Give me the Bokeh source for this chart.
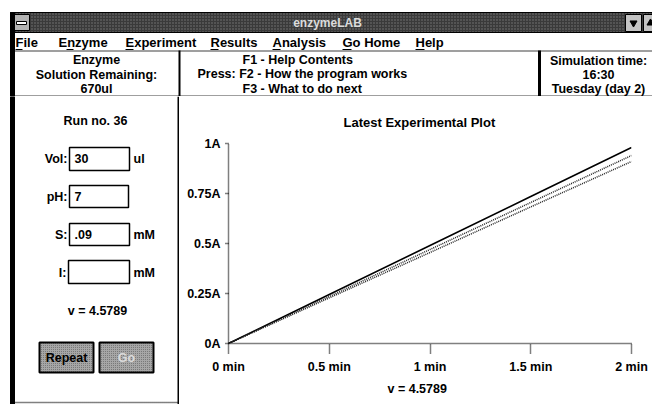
from bokeh.plotting import figure
from bokeh.layouts import column, row
from bokeh.models import Range1d, FixedTicker, Title
from bokeh.core.properties import value
from bokeh.embed import file_html
from bokeh.resources import INLINE

# ---------------- data ----------------
time_min = [0, 0.5, 1.0, 1.5, 2.0]
run_a = [0, 0.245, 0.49, 0.735, 0.98]
run_b = [0, 0.235, 0.47, 0.705, 0.94]
run_c = [0, 0.228, 0.455, 0.683, 0.91]
x_ticks = [0, 0.5, 1, 1.5, 2]
x_tick_labels = ["0 min", "0.5 min", "1 min", "1.5 min", "2 min"]
y_ticks = [0, 0.25, 0.5, 0.75, 1]
y_tick_labels = ["0A", "0.25A", "0.5A", "0.75A", "1A"]
plot_title = "Latest Experimental Plot"
rate_text = "v = 4.5789"
menu_items = ["File", "Enzyme", "Experiment", "Results", "Analysis", "Go Home", "Help"]
run_number = "Run no. 36"
vol_value, ph_value, s_value, i_value = "30", "7", ".09", ""

FONT = "Liberation Sans"
FV = value(FONT)


def no_align(f):
    try:
        f.frame_align = False
    except Exception:
        pass


def chrome_fig(w, h, x0, x1, y0, y1):
    f = figure(width=w, height=h, x_range=Range1d(x0, x1), y_range=Range1d(y1, y0),
               x_axis_type=None, y_axis_type=None, toolbar_location=None,
               output_backend="svg", min_border=0, outline_line_color=None)
    f.grid.visible = False
    f.background_fill_color = "white"
    f.border_fill_color = "white"
    no_align(f)
    return f


def txt(f, xs, ys, texts, align="left", size="12.5px", color="black"):
    f.text(x=xs, y=ys, text=texts, text_align=align, text_baseline="middle",
           text_font=FV, text_font_size=size, text_color=color, text_font_style="bold")


# ---------------- top chrome (page y 0..96) ----------------
top = chrome_fig(652, 96, 0, 652, 0, 96)
# title bar
top.quad(left=10, right=660, top=12, bottom=32, fill_color="#3a3a3a", line_color="black",
         hatch_pattern="dot", hatch_color="#7a7a7a", hatch_scale=3)
top.quad(left=13, right=29, top=14, bottom=30, fill_color="#b4b4b4", line_color="black")
top.quad(left=16, right=26, top=21, bottom=24, fill_color="white", line_color="black")
top.quad(left=[625, 643], right=[641, 659], top=14, bottom=31, fill_color="#c4c4c4", line_color="black")
top.scatter(x=[633], y=[22.5], marker="inverted_triangle", size=7, color="black")
top.scatter(x=[650], y=[22.5], marker="triangle", size=7, color="black")
txt(top, [327], [22], ["enzymeLAB"], align="center", size="12px", color="#dcdcdc")
# menu bar
menu_x = [15, 58, 125, 210, 272, 342, 415]
txt(top, menu_x, [42] * len(menu_items), menu_items, size="13px")
ul_l = [15, 66, 125, 210, 272, 342, 415]
ul_w = [7, 7, 8, 8, 8, 9, 9]
top.segment(x0=ul_l, x1=[a + b for a, b in zip(ul_l, ul_w)], y0=49, y1=49, line_color="black", line_width=1)
top.segment(x0=10, x1=652, y0=50.5, y1=50.5, line_color="black", line_width=1.5, line_dash="1 1")
# left window frame
top.quad(left=10, right=14, top=12, bottom=96, fill_color="black", line_color="black")
# header dividers and bottom line
top.segment(x0=[179, 539], x1=[179, 539], y0=50, y1=96, line_color="black", line_width=[2, 3])
top.segment(x0=10, x1=652, y0=95.5, y1=95.5, line_color="black", line_width=1.5, line_dash="1 1")
txt(top, [96, 96, 96], [59, 74, 88], ["Enzyme", "Solution Remaining:", "670ul"], align="center")
txt(top, [242, 197, 242], [59, 73, 88],
    ["F1 - Help Contents", "Press: F2 - How the program works", "F3 - What to do next"])
txt(top, [598, 598, 598], [60, 74, 88], ["Simulation time:", "16:30", "Tuesday (day 2)"], align="center")

# ---------------- left panel (page x 0..179, y 96..404) ----------------
left = chrome_fig(179, 308, 0, 179, 96, 404)
left.quad(left=10, right=14, top=96, bottom=404, fill_color="black", line_color="black")
left.segment(x0=178, x1=178, y0=96, y1=404, line_color="black", line_width=2)
left.segment(x0=14, x1=179, y0=402, y1=402, line_color="black", line_width=1.5, line_dash="1 1")
txt(left, [95], [120], [run_number], align="center")
# input boxes
left.quad(left=[69, 69, 69, 68], right=[129, 128, 129, 129], top=[147, 185, 223, 260],
          bottom=[170, 207, 245, 283], fill_color="white", line_color="black", line_width=1.5)
txt(left, [67, 67, 67, 66], [158, 196, 234, 272], ["Vol:", "pH:", "S:", "I:"], align="right")
txt(left, [74, 74, 74, 74], [158, 196, 234, 272], [vol_value, ph_value, s_value, i_value])
txt(left, [133, 133, 133], [158, 234, 272], ["ul", "mM", "mM"])
txt(left, [97], [310], [rate_text], align="center")
# buttons
left.quad(left=[39, 99], right=[93, 153], top=342, bottom=372, fill_color="#a6a6a6",
          hatch_pattern="dot", hatch_color="#6a6a6a", hatch_scale=2,
          line_color="black", line_width=2)
txt(left, [66], [357], ["Repeat"], align="center")
txt(left, [126], [357], ["Go"], align="center", color="#dadada")

# ---------------- plot (page x 179..652, y 96..404) ----------------
p = figure(width=473, height=308, x_range=Range1d(0, 2), y_range=Range1d(0, 1),
           toolbar_location=None, output_backend="svg",
           min_border_left=49, min_border_right=21, min_border_top=47, min_border_bottom=61,
           outline_line_color=None)
no_align(p)
p.grid.visible = False
p.background_fill_color = "white"
p.border_fill_color = "white"
p.title.text = plot_title
p.title.align = "left"
p.title.offset = 115
p.title.standoff = 28
p.title.text_font = FONT
p.title.text_font_size = "13px"
p.title.text_font_style = "bold"
p.title.text_color = "black"

p.line(time_min, run_a, line_color="black", line_width=1.6)
p.line(time_min, run_b, line_color="#222222", line_width=1.5, line_dash="1 1")
p.line(time_min, run_c, line_color="#222222", line_width=1.5, line_dash="1 1")

for ax, ticks, labels in ((p.xaxis[0], x_ticks, x_tick_labels), (p.yaxis[0], y_ticks, y_tick_labels)):
    ax.ticker = FixedTicker(ticks=ticks)
    ax.major_label_overrides = {t: l for t, l in zip(ticks, labels)}
    ax.axis_line_color = "black"
    ax.axis_line_width = 1.5
    ax.axis_line_dash = "1 1"
    ax.major_tick_line_color = "black"
    ax.major_tick_line_width = 1.5
    ax.major_tick_line_dash = "1 1"
    ax.minor_tick_line_color = None
    ax.major_tick_in = 0
    ax.major_label_text_font = FONT
    ax.major_label_text_font_size = "12.5px"
    ax.major_label_text_font_style = "bold"
    ax.major_label_text_color = "black"

p.xaxis[0].major_tick_out = 10
p.xaxis[0].major_label_standoff = 6
p.yaxis[0].major_tick_out = 3
p.yaxis[0].major_label_standoff = 5

t2 = Title(text=rate_text, align="left", offset=159, standoff=6, text_font=FONT,
           text_font_size="12.5px", text_font_style="bold", text_color="black")
p.add_layout(t2, "below")

layout = column(top, row(left, p, spacing=0), spacing=0)
open("out.html", "w").write(file_html(layout, INLINE))
